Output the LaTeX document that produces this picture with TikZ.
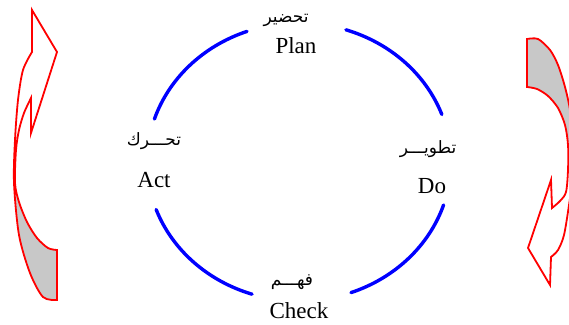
\documentclass[tikz,border=0pt]{standalone}
\usepackage{fontspec}
\setmainfont{Liberation Serif}
\newfontfamily\arabicfont[Script=Arabic]{DejaVu Sans}
\TeXXeTstate=1
\usetikzlibrary{positioning}
\definecolor{ringblue}{HTML}{0000FF}
\definecolor{arrowred}{HTML}{FF0000}
\definecolor{shade}{HTML}{C8C8C8}
\tikzset{
  phase/.style ={inner sep=0pt, font=\fontsize{23}{26}\selectfont, anchor=base},
  ar/.style    ={inner sep=0pt, font=\fontsize{17}{19}\arabicfont},
  ring/.style  ={draw=ringblue, line width=3.4pt, line cap=round},
  turn/.style  ={draw=arrowred, line width=1.8pt, line join=miter},
  back/.style  ={fill=shade},
}

\begin{document}
\begin{tikzpicture}[x=1pt, y=-1pt]
  \useasboundingbox (0,0) rectangle (569,324);
  % cycle ring
  \coordinate (c) at (299,162);
  \foreach \a in {0,90,180,270}
    \draw[ring] (c) ++(\a+18:152 and 139) arc[start angle=\a+18, end angle=\a+70, x radius=152, y radius=139];
  % phase labels
  \node[phase] (plan) at (296,53) {Plan};
  \node[ar, above=10pt of plan, xshift=-10pt] (planar) {\beginR تحضير\endR};
  \node[phase] (act) at (154,187) {Act};
  \node[ar, above=22pt of act] (actar) {\beginR تحـــرك\endR};
  \node[phase] (do) at (432,193) {Do};
  \node[ar, above=20pt of do, xshift=-4pt] (doar) {\beginR تطويـــر\endR};
  \node[phase] (check) at (299,318) {Check};
  \node[ar, above=12pt of check, xshift=-7pt] (checkar) {\beginR فهـــم\endR};
  % left turn arrow
  \fill[back] plot[smooth] coordinates {(15,185)(19,202)(27,222)(37,238)(48,248)(57,250)} -- (57,300)
    -- plot[smooth] coordinates {(57,300)(43,297)(30,273)(19,235)(14,190)} -- cycle;
  \draw[turn] (32,10) -- (57,52) -- (31,133) -- (31,98)
    -- plot[smooth] coordinates {(31,98)(24,113)(19,130)(16,150)(15,183)(19,202)(27,222)(37,238)(48,248)(57,250)}
    -- (57,300)
    -- plot[smooth] coordinates {(57,300)(43,297)(30,273)(19,235)(14,183)(15,140)(18,100)(23,70)(32,52)}
    -- cycle;
  % right turn arrow
  \fill[back] plot[smooth] coordinates {(527,39)(538,39)(550,50)(558,65)(565,87)(570,110)(572,130)}
    -- plot[smooth] coordinates {(568,145)(565,125)(558,108)(548,96)(537,89)(527,87)} -- cycle;
  \draw[turn] (527,39)
    -- plot[smooth] coordinates {(527,39)(538,39)(550,50)(558,65)(565,87)(570,110)(573,140)(573,175)(569,205)(564,235)(558,250)(551,257)}
    -- (550,285) -- (528,248) -- (551,180) -- (552,208)
    -- plot[smooth] coordinates {(552,208)(560,201)(566,192)(568,170)(568,145)(565,125)(558,108)(548,96)(537,89)(527,87)}
    -- cycle;
\end{tikzpicture}
\end{document}
